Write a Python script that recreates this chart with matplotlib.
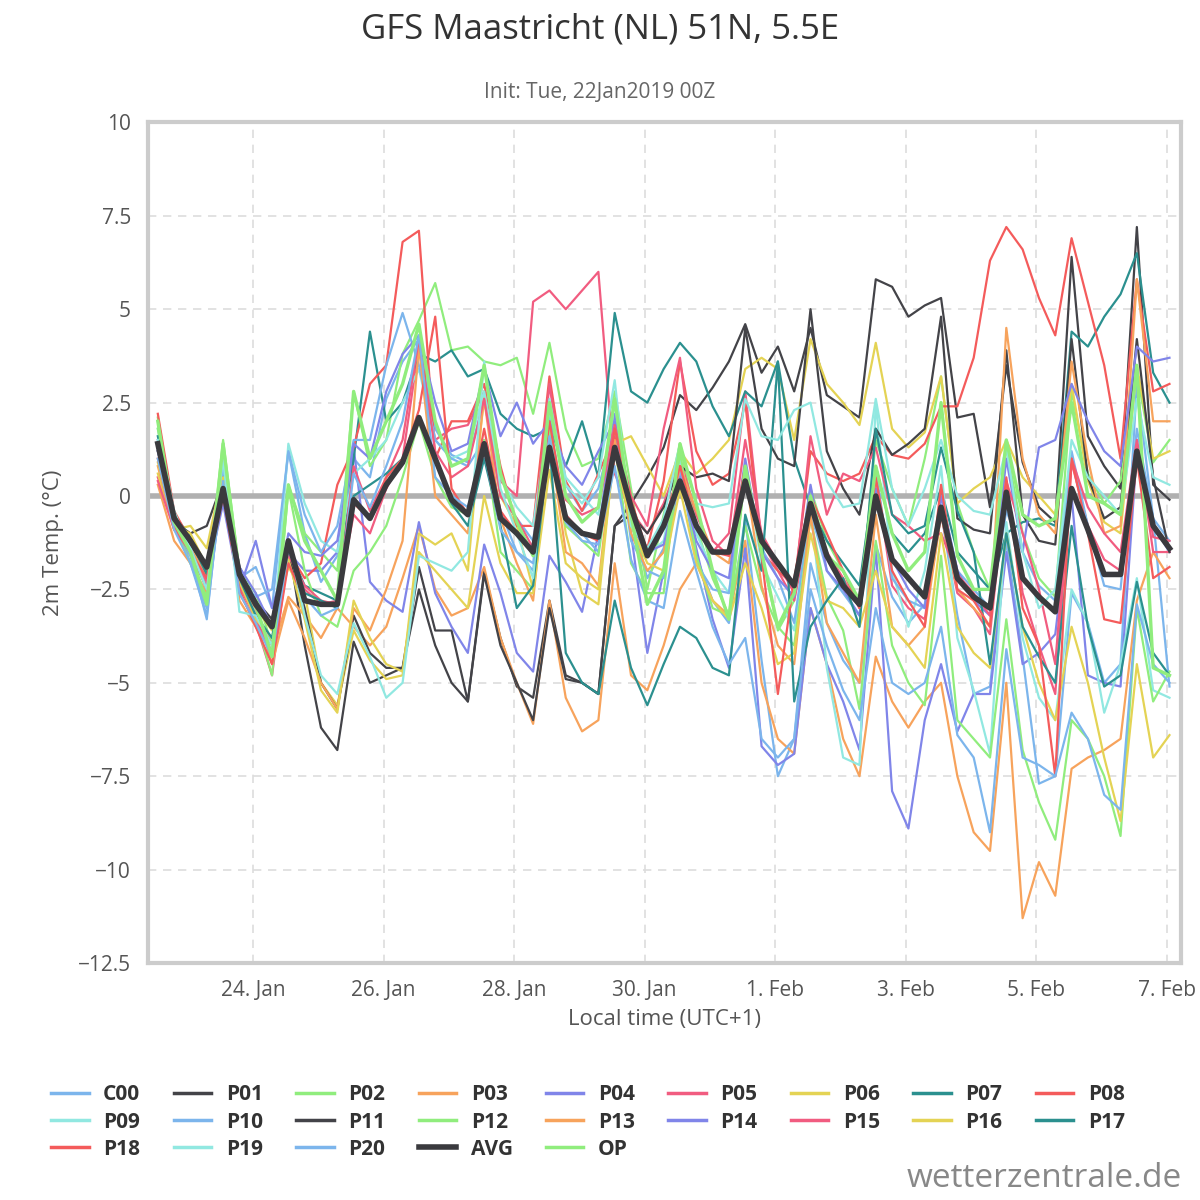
import numpy as np
import matplotlib
matplotlib.use('Agg')
import matplotlib.pyplot as plt

plt.rcParams['font.family'] = ['Open Sans', 'DejaVu Sans']

# time: days since 22 Jan 00:00 local, first value 22 Jan 13:00, 6-hourly
T0 = 13 / 24
STEP = 0.25

C00 = [2.0,-0.6,-1.8,-3.2,0.6,-2.2,-1.9,-3.0,1.2,-1.0,-2.3,-1.6,1.0,0.5,2.6,3.6,4.2,1.8,1.1,0.9,2.6,0.0,-0.6,-1.2,2.2,0.3,-0.4,0.2,1.9,-0.7,-2.2,-1.4,0.8,-1.6,-2.8,-3.4,-0.6,-4.4,-7.5,-6.5,-1.8,-3.4,-4.4,-5.0,-1.3,-2.7,-3.4,-2.9,-0.4,-3.2,-5.3,-5.1,-1.2,-4.3,-7.7,-7.5,-2.6,-3.4,-5.0,-4.5,3.0,-0.6,-5.1]
P01 = [1.4,-0.7,-1.0,-0.8,0.4,-1.9,-2.8,-3.3,-1.3,-4.0,-6.2,-6.8,-3.9,-5.0,-4.8,-4.6,-1.9,-3.6,-3.6,-5.5,-2.0,-3.8,-5.1,-5.4,-2.8,-4.8,-5.0,-5.3,-0.8,-0.2,0.5,1.3,2.7,2.3,2.9,3.6,4.6,3.3,4.0,2.8,4.5,2.7,2.4,2.1,5.8,5.6,4.8,5.1,5.3,2.1,2.2,-0.3,3.5,0.9,-0.3,-0.7,6.4,1.6,0.8,0.2,7.2,0.3,-0.1]
P02 = [2.1,-0.5,-1.5,-2.5,1.5,-2.0,-2.6,-4.0,0.3,-1.0,-1.5,-2.0,2.8,0.8,1.5,3.8,4.7,5.7,3.9,4.0,3.6,3.5,3.7,2.2,4.1,1.8,0.8,1.0,2.8,0.2,-2.5,-0.5,1.4,-0.8,-2.2,-3.2,0.6,-1.5,-3.6,-2.8,0.2,-1.2,-2.0,-3.0,1.5,0.2,-0.8,1.0,3.2,-0.2,-1.5,-2.5,1.3,-1.0,-2.2,-2.7,2.8,0.6,-0.2,0.4,3.3,0.9,1.5]
P03 = [0.3,-1.2,-1.8,-2.6,0.6,-2.8,-3.5,-4.2,-2.7,-3.2,-3.8,-3.0,-3.5,-4.0,-3.5,-2.2,-0.8,-2.5,-3.2,-3.0,-1.9,-3.8,-5.0,-6.1,-2.8,-5.4,-6.3,-6.0,-1.8,-4.8,-5.2,-4.0,-2.5,-1.8,-2.8,-3.2,-1.2,-5.0,-6.5,-6.9,-3.0,-4.5,-6.5,-7.5,-4.3,-5.5,-6.2,-5.5,-5.0,-7.5,-9.0,-9.5,-5.0,-11.3,-9.8,-10.7,-7.3,-7.0,-6.8,-6.5,-2.8,-1.5,-2.2]
P04 = [1.5,-0.6,-1.3,-2.2,-0.2,-2.5,-1.2,-3.0,-1.5,-2.0,-2.0,-1.5,1.3,-2.3,-2.8,-3.1,-0.7,-2.6,-3.5,-4.2,-1.3,-2.6,-4.2,-4.7,-1.6,-2.3,-3.1,-1.0,2.2,-1.0,-4.2,-2.0,0.6,-1.4,-3.3,-4.6,-1.4,-6.7,-7.2,-6.9,-3.0,-4.5,-5.5,-6.8,-1.4,-7.9,-8.9,-6.0,-4.5,-6.3,-5.3,-5.3,-1.5,-4.5,-4.2,-3.7,0.0,-4.8,-5.0,-5.1,1.2,-0.8,-1.5]
P05 = [0.5,-0.8,-1.6,-2.4,0.3,-2.6,-3.4,-4.8,-1.5,-2.5,-2.9,-2.8,-0.5,-1.0,0.2,1.0,4.0,1.5,1.8,1.9,2.8,0.4,0.0,5.2,5.5,5.0,5.5,6.0,0.6,-0.4,-1.0,-0.2,1.0,-0.5,-1.5,-1.0,2.8,-1.2,-2.0,-2.8,-0.6,-1.5,-2.2,-3.0,0.5,-2.4,-3.0,-3.3,-0.5,-2.6,-3.0,-3.7,0.4,-2.6,-4.0,-5.3,0.9,-0.8,-1.7,-2.0,1.5,-1.5,-1.5]
P06 = [0.6,-0.9,-0.8,-1.4,0.7,-2.1,-3.0,-3.6,-1.9,-2.6,-5.0,-5.6,-3.6,-4.4,-4.9,-4.8,-1.0,-1.3,-1.0,-2.0,2.8,0.0,-0.8,-2.5,2.0,-1.0,-2.6,-2.9,1.4,1.6,0.8,0.0,1.2,0.6,1.0,1.5,3.4,3.7,3.4,1.5,4.2,3.0,2.5,1.9,4.1,1.8,1.3,1.7,3.2,-0.2,0.2,0.5,1.5,0.5,0.0,-0.5,3.0,0.4,-0.7,-1.0,3.5,1.0,1.2]
P07 = [1.3,-0.5,-1.1,-2.0,0.6,-2.4,-3.0,-3.5,-1.4,-2.4,-2.6,-2.8,1.0,4.4,2.0,2.5,3.8,3.6,3.9,3.2,3.4,2.2,1.8,1.6,1.8,0.8,2.0,0.5,4.9,2.8,2.5,3.4,4.1,3.6,2.4,1.6,2.8,2.4,3.6,1.0,-0.3,-1.2,-1.8,-2.4,0.8,-1.0,-1.5,-1.0,0.2,-1.5,-2.0,-2.5,-1.0,-0.7,-0.6,-0.8,4.4,4.0,4.8,5.4,6.5,3.3,2.5]
P08 = [2.2,-0.4,-1.2,-2.0,0.5,-2.3,-3.2,-4.0,-1.5,-2.2,-1.8,0.3,1.3,3.0,3.5,6.8,7.1,1.0,2.0,2.0,3.0,0.8,-0.8,-0.8,3.2,0.4,-0.4,0.6,1.6,-0.6,-1.4,0.4,3.6,1.2,0.3,0.6,2.5,-1.5,-2.0,-2.4,1.2,0.6,0.4,0.6,1.6,1.1,1.0,1.4,2.4,2.4,3.7,6.3,7.2,6.6,5.3,4.3,6.9,5.2,3.5,1.0,5.8,2.8,3.0]
P09 = [1.8,-0.4,-1.5,-2.3,1.2,-2.4,-3.1,-4.2,1.4,-0.2,-1.2,-1.5,0.6,1.0,1.5,2.5,3.4,1.5,1.0,1.2,2.8,0.5,-0.3,-0.8,2.3,0.5,0.0,-0.5,2.5,-0.4,-1.6,-1.2,1.0,-1.0,-2.0,-2.6,0.8,-1.8,-2.7,-3.6,-0.2,-4.6,-7.0,-7.2,2.5,-2.0,-3.5,-2.0,0.8,-3.8,-5.2,-6.9,-0.7,-3.8,-5.4,-6.0,-2.5,-3.4,-5.8,-4.5,-2.2,-5.2,-5.4]
P10 = [1.3,-0.8,-1.6,-3.3,0.8,-2.2,-2.7,-2.5,1.2,-0.5,-1.5,-0.8,1.5,1.5,3.5,4.9,3.5,1.5,1.0,0.8,1.5,-0.4,-1.5,-2.0,2.0,-0.5,-1.0,-1.5,2.0,-1.2,-2.0,-2.2,0.8,-1.8,-2.5,-2.6,0.6,-1.4,-2.2,-3.4,-0.4,-2.0,-2.6,-3.2,0.7,-2.2,-2.8,-3.0,0.0,-2.0,-2.5,-3.0,-0.4,-1.5,-2.4,-2.8,1.2,-0.8,-2.4,-2.5,1.8,-0.6,-1.2]
P11 = [1.2,-0.5,-1.3,-2.0,0.3,-2.0,-2.8,-3.5,-1.5,-3.0,-5.0,-5.7,-3.2,-4.2,-4.6,-4.6,-2.5,-4.0,-5.0,-5.5,-2.1,-4.0,-5.0,-6.0,-3.0,-4.9,-5.0,-5.3,-0.8,-0.5,-1.0,-0.3,0.8,0.5,0.6,0.4,4.5,1.8,1.0,0.8,5.0,1.2,0.2,-0.5,1.8,1.1,1.4,1.8,4.8,-0.6,-0.9,-1.0,3.9,-0.5,-1.2,-1.3,4.2,0.5,-0.6,-0.3,4.2,0.5,-1.5]
P12 = [1.8,-0.8,-1.8,-2.7,1.3,-2.2,-3.3,-4.8,0.2,-2.0,-3.2,-3.5,-2.0,-1.5,-0.8,0.5,2.0,0.5,-0.3,-0.5,1.5,-1.5,-2.0,-2.5,1.8,-0.8,-1.2,-1.6,1.4,-1.8,-2.6,-2.6,1.2,-1.6,-3.0,-3.2,-0.8,-2.5,-3.5,-4.0,-0.6,-2.7,-3.6,-5.7,-1.2,-4.0,-5.0,-5.6,-1.6,-6.0,-6.5,-7.0,-3.3,-6.8,-8.2,-9.2,-6.0,-6.5,-7.5,-9.1,-3.0,-5.5,-4.7]
P13 = [0.8,-0.9,-1.4,-2.1,0.4,-2.4,-3.0,-4.5,-2.8,-3.8,-5.0,-5.7,-3.0,-3.6,-2.5,-1.2,4.0,0.0,-0.5,-1.0,2.6,-0.6,-1.8,-2.8,1.5,-1.5,-1.8,-2.4,1.5,-1.0,-2.0,-1.5,0.8,-0.4,-1.5,-1.8,0.6,-2.4,-4.0,-4.5,-0.5,-3.4,-4.2,-5.0,-0.5,-3.5,-4.0,-3.5,-0.5,-2.5,-3.0,-3.5,4.5,1.0,-0.5,-1.0,3.6,1.0,-1.0,-0.8,5.8,2.0,2.0]
P14 = [1.2,-0.7,-1.4,-2.5,0.5,-1.9,-2.6,-3.5,-1.0,-1.5,-1.6,-1.2,1.4,1.0,2.8,3.8,4.3,2.5,1.2,1.4,3.4,1.6,2.5,1.4,2.0,0.8,0.3,1.2,2.0,-0.8,-1.5,-1.3,0.5,-1.2,-2.0,-2.2,1.0,-1.5,-2.2,-2.7,0.3,-2.0,-2.5,-3.2,0.2,-1.7,-2.5,-3.0,0.0,-2.0,-2.8,-3.2,1.0,-1.5,1.3,1.5,3.0,2.0,1.2,0.8,4.0,3.6,3.7]
P15 = [0.4,-0.9,-1.5,-2.3,0.2,-2.4,-3.3,-4.2,-1.6,-2.4,-2.8,-2.9,0.8,-0.4,0.5,1.5,4.2,1.2,0.5,0.8,2.6,0.0,-0.6,-1.4,3.0,-0.1,-0.5,-0.3,1.9,0.0,-0.8,1.8,3.7,0.2,-1.2,-1.6,1.5,-1.0,-1.8,-2.6,1.6,-0.5,0.6,0.4,1.3,-0.5,-0.8,-1.2,-1.0,-2.1,-2.6,-3.2,0.4,-1.0,-2.5,-4.5,1.0,-0.3,-1.0,-1.5,1.5,-1.1,-1.2]
P16 = [0.9,-0.8,-1.0,-1.9,0.5,-2.3,-3.3,-3.8,-1.7,-3.3,-5.2,-5.8,-2.8,-3.8,-4.5,-4.7,-1.5,-2.0,-2.5,-3.0,0.0,-1.8,-2.6,-2.6,0.7,-1.8,-2.2,-2.5,1.2,-0.8,-1.8,-2.0,0.2,-1.8,-2.8,-3.3,-1.8,-3.0,-4.5,-4.2,-1.0,-2.8,-3.0,-3.5,-2.0,-3.5,-4.0,-4.6,-1.0,-3.5,-4.2,-4.6,-1.0,-3.5,-5.0,-6.0,-3.5,-5.0,-7.0,-8.7,-4.5,-7.0,-6.4]
P17 = [1.6,-0.6,-1.2,-2.1,0.1,-2.2,-3.2,-3.8,-1.2,-2.6,-2.8,-3.0,0.0,0.3,0.6,1.0,2.0,1.0,-0.2,-0.8,1.0,-0.8,-3.0,-2.4,1.4,-4.2,-5.0,-5.3,-2.8,-4.6,-5.6,-4.5,-3.5,-3.8,-4.6,-4.8,-0.5,-2.0,3.6,-5.5,-3.5,-2.8,-2.2,-3.5,1.8,-0.5,-1.0,-0.8,1.3,-0.4,-1.5,-4.5,-1.0,-3.5,-4.3,-5.0,-0.8,-3.5,-5.1,-4.8,-2.3,-4.2,-4.8]
P18 = [1.0,-0.8,-1.5,-2.2,0.0,-2.5,-3.5,-4.5,-1.8,-2.8,-2.9,-2.9,-0.2,-0.6,0.5,1.0,2.3,4.8,0.2,-0.5,1.8,-0.4,-1.0,-1.5,2.0,-0.5,-1.0,-1.2,1.8,-0.1,-1.5,-0.8,0.8,-0.8,-1.5,-1.6,0.8,-1.6,-5.3,-2.2,0.0,-1.0,-2.0,-3.0,0.5,-2.0,-2.8,-3.5,0.3,-2.5,-2.8,-3.5,0.5,-3.0,-4.0,-7.5,1.0,-1.0,-3.3,-3.4,1.0,-2.2,-1.9]
P19 = [1.5,-0.7,-1.4,-2.5,1.0,-3.1,-3.2,-4.0,-1.2,-3.2,-4.8,-5.3,-3.4,-4.3,-5.4,-5.0,-1.6,-1.8,-2.0,-1.5,3.6,0.2,-1.0,-2.2,2.6,0.3,-0.2,0.5,3.1,-0.8,-1.4,-0.6,1.4,-0.2,-0.3,-0.2,2.6,1.6,1.5,2.3,2.5,0.4,-0.3,-0.2,2.6,0.2,-0.8,0.2,1.5,0.0,-0.4,-0.5,1.3,-1.5,-3.0,-2.5,1.5,0.5,0.0,-0.5,2.6,0.5,0.3]
P20 = [1.0,-0.9,-1.8,-3.0,0.4,-2.6,-3.4,-4.3,-1.4,-2.7,-3.2,-3.0,0.6,-0.3,0.8,2.0,4.3,0.5,0.0,-0.3,1.2,-0.9,-1.5,-1.8,1.6,-0.7,-1.2,-1.3,0.8,-1.7,-2.8,-3.0,-0.4,-2.0,-3.5,-4.5,-3.8,-6.5,-7.0,-6.5,-2.5,-4.0,-5.2,-6.0,-3.0,-5.0,-5.3,-5.0,-3.5,-6.4,-7.0,-9.0,-4.1,-7.0,-7.2,-7.5,-5.8,-6.5,-8.0,-8.4,-2.9,-4.5,-5.0]
AVG = [1.4,-0.6,-1.2,-1.9,0.2,-2.1,-2.9,-3.5,-1.2,-2.8,-2.9,-2.9,-0.1,-0.6,0.3,0.9,2.1,1.0,-0.1,-0.5,1.4,-0.6,-1.0,-1.5,1.3,-0.6,-1.0,-1.1,1.3,-0.3,-1.6,-0.8,0.4,-0.8,-1.5,-1.5,0.4,-1.2,-1.8,-2.4,-0.2,-1.6,-2.4,-2.9,0.0,-1.7,-2.2,-2.7,-0.3,-2.2,-2.7,-3.0,0.1,-2.2,-2.7,-3.1,0.2,-0.9,-2.1,-2.1,1.2,-0.8,-1.4]
OP = [2.0,-0.7,-1.5,-2.9,1.4,-2.1,-2.9,-4.3,0.3,-1.2,-2.0,-2.8,2.8,1.0,2.0,3.0,4.6,2.0,0.8,1.0,3.5,0.6,-0.7,-1.6,2.5,0.0,-0.7,-0.3,2.6,-0.5,-2.9,-2.0,1.4,-0.2,-2.0,-3.3,0.8,-1.5,-3.5,-2.6,0.0,-1.6,-2.0,-2.8,0.8,-1.0,-2.0,-1.5,2.5,-1.6,-2.5,-2.5,1.5,-0.5,-0.8,-0.6,2.5,0.0,-0.2,-0.5,3.5,-4.6,-4.8]

MEMBERS = [('C00', C00), ('P01', P01), ('P02', P02), ('P03', P03), ('P04', P04),
           ('P05', P05), ('P06', P06), ('P07', P07), ('P08', P08), ('P09', P09),
           ('P10', P10), ('P11', P11), ('P12', P12), ('P13', P13), ('P14', P14),
           ('P15', P15), ('P16', P16), ('P17', P17), ('P18', P18), ('P19', P19),
           ('P20', P20)]
PALETTE = ['#7cb5ec', '#434348', '#90ed7d', '#f7a35c', '#8085e9',
           '#f15c80', '#e4d354', '#2b908f', '#f45b5b', '#91e8e1']

TICK_DAYS = [2, 4, 6, 8, 10, 12, 14, 16]
TICK_LABELS = ['24. Jan', '26. Jan', '28. Jan', '30. Jan', '1. Feb', '3. Feb', '5. Feb', '7. Feb']
Y_TICKS = [10, 7.5, 5, 2.5, 0, -2.5, -5, -7.5, -10, -12.5]

fig = plt.figure(figsize=(12, 12), dpi=100)
ax = fig.add_axes([0.123, 0.1975, 0.861, 0.7005])

handles = []
for k, (name, vals) in enumerate(MEMBERS):
    x = T0 + STEP * np.arange(len(vals))
    ln, = ax.plot(x, vals, color=PALETTE[k % 10], lw=1.6, zorder=3)
    handles.append((ln, name))
ln_op, = ax.plot(T0 + STEP * np.arange(len(OP)), OP, color='#90ed7d', lw=2.4, zorder=4)
ln_avg, = ax.plot(T0 + STEP * np.arange(len(AVG)), AVG, color='#3a3a3e', lw=4, zorder=5)
handles.append((ln_avg, 'AVG'))
handles.append((ln_op, 'OP'))

ax.axhline(0, color='#b0b0b0', lw=4, zorder=2)
ax.set_xlim(0.385, 16.215)
ax.set_ylim(-12.5, 10)
ax.set_xticks(TICK_DAYS)
ax.set_xticklabels(TICK_LABELS)
ax.set_yticks(Y_TICKS)
ax.set_yticklabels(['10', '7.5', '5', '2.5', '0', '\u22122.5', '\u22125', '\u22127.5', '\u221210', '\u221212.5'])
ax.grid(True, ls=(0, (5, 4)), color='#dddddd', lw=1.2, zorder=0)
ax.tick_params(length=0, labelsize=15, colors='#555555', pad=12)
for s in ax.spines.values():
    s.set_color('#cccccc')
    s.set_linewidth(3)
ax.set_ylabel('2m Temp. (°C)', fontsize=16, color='#555555', labelpad=10)
ax.set_xlabel('Local time (UTC+1)', fontsize=16, color='#555555', labelpad=6)

fig.text(0.5, 0.975, 'GFS Maastricht (NL) 51N, 5.5E', ha='center', va='center',
         fontsize=25, color='#333333')
fig.text(0.5, 0.923, 'Init: Tue, 22Jan2019 00Z', ha='center', va='center',
         fontsize=15, color='#666666')

# legend is filled column-wise; reorder so it reads row by row
NCOL = 9
order = []
for c in range(NCOL):
    order.extend(range(c, len(handles), NCOL))
leg = fig.legend([handles[i][0] for i in order], [handles[i][1] for i in order], ncol=NCOL,
                 loc='center', bbox_to_anchor=(0.49, 0.065), frameon=False,
                 prop={'weight': 'bold', 'size': 15}, handlelength=1.8,
                 columnspacing=1.6, handletextpad=0.7, labelspacing=0.3)
for t in leg.get_texts():
    t.set_color('#333333')
for lh in leg.get_lines():
    if lh.get_linewidth() < 2.5:
        lh.set_linewidth(2.5)

fig.text(0.985, 0.018, 'wetterzentrale.de', ha='right', va='center',
         fontsize=24, color='#888888')

fig.savefig('out.png', dpi=100)
